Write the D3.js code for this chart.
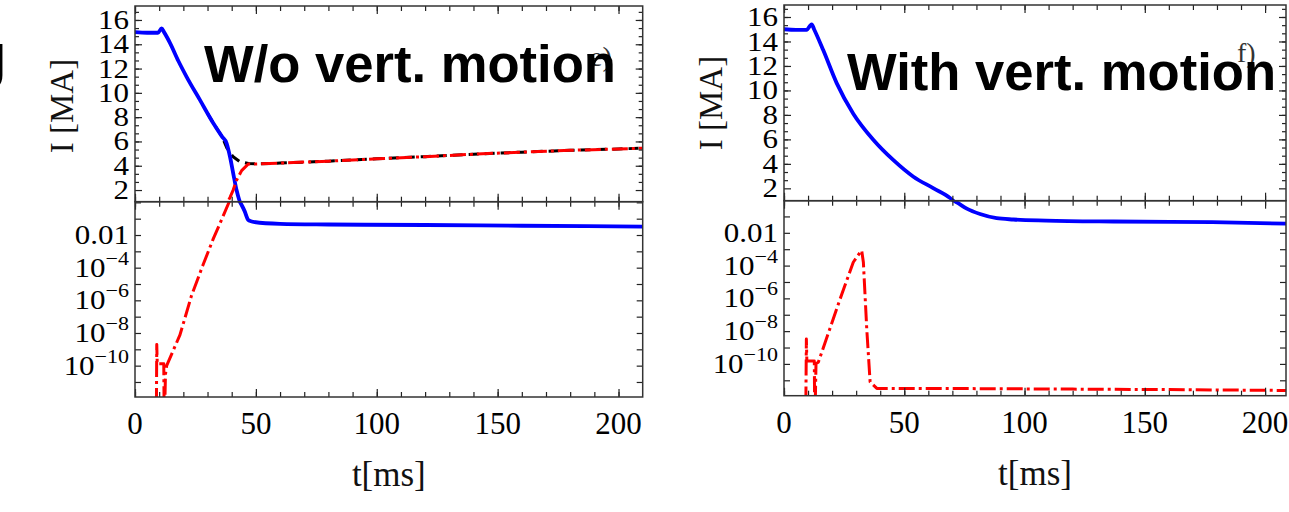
<!DOCTYPE html>
<html>
<head>
<meta charset="utf-8">
<script src="https://cdn.jsdelivr.net/npm/d3@7"></script>
<style>
body { margin: 0; background: #fff; }
svg { display: block; }
</style>
</head>
<body>
<svg id="chart" width="1289" height="512"></svg>
<script>
// panel e) : without vertical motion
var tOhmicE = [0, 5, 9.5, 11, 12, 14.5, 18, 21.4, 26.9, 32.4, 36, 37.9, 39.3, 40.6, 42, 43.1, 44.1, 45.3, 46.8, 48, 49, 60, 80, 120, 160, 210];
var iOhmicE = [15, 14.95, 14.95, 15.3, 15.0, 14.1, 12.6, 11.3, 9.4, 7.5, 6.4, 5.85, 4.74, 3.4, 2.0, 1.2, 0.69, 0.3, 0.085, 0.07, 0.063, 0.048, 0.044, 0.041, 0.037, 0.033];
var tRunE = [8.8, 9.0, 9.2, 11.9, 12.1, 12.6, 13.1, 18.6, 23.4, 28, 32.4, 36, 39.3, 40.6, 42, 44.1, 46.9, 50, 60, 80, 100, 120, 140, 160, 180, 200, 210];
var iRunE = [1e-14, 2e-9, 1.3e-10, 1.3e-10, 1e-14, 3e-11, 1e-10, 7.6e-9, 2e-6, 1.3e-4, 6e-3, 0.1, 1.4, 2.0, 2.8, 3.6, 4.15, 4.15, 4.22, 4.38, 4.57, 4.75, 4.95, 5.12, 5.27, 5.38, 5.45];
var tTotalE = [30, 32.4, 36, 37.9, 40.6, 43.4, 46.9, 50, 60, 80, 100, 120, 140, 160, 180, 200, 210];
var iTotalE = [8.3, 7.5, 6.4, 5.5, 4.74, 4.33, 4.18, 4.15, 4.22, 4.38, 4.57, 4.75, 4.95, 5.12, 5.27, 5.38, 5.45];

// panel f) : with vertical motion
var tOhmicF = [0, 5, 9.4, 11.5, 12.5, 16.3, 21.9, 28.8, 37.2, 45.5, 53.8, 62.2, 69.1, 72, 76, 81.5, 88.4, 95.4, 109, 137, 178, 209];
var iOhmicF = [15, 14.95, 14.95, 15.4, 15.0, 13.3, 10.6, 8.1, 5.95, 4.3, 2.95, 2.0, 1.2, 0.7, 0.3, 0.14, 0.078, 0.065, 0.056, 0.049, 0.045, 0.036];
var tRunF = [9.0, 9.3, 9.5, 12.6, 12.8, 13.3, 14.3, 23.3, 28.8, 31.5, 32.3, 33, 34.4, 35.8, 38.6, 80, 120, 160, 209];
var iRunF = [1e-14, 3.3e-9, 1.5e-10, 1.5e-10, 1e-14, 1e-10, 1.3e-10, 9e-7, 1.6e-4, 6e-4, 8.3e-4, 1.6e-4, 1.4e-8, 8e-12, 3.2e-12, 3.1e-12, 2.9e-12, 2.7e-12, 2.4e-12];

// ticks
var xTicks = [0, 50, 100, 150, 200];
var linTicks = [2, 4, 6, 8, 10, 12, 14, 16];
var logTicks = [1e-2, 1e-4, 1e-6, 1e-8, 1e-10];
var logLabels = [["0.01", ""], ["10", "\u22124"], ["10", "\u22126"], ["10", "\u22128"], ["10", "\u221210"]];

var svg = d3.select("#chart");
var defs = svg.append("defs");
var serif = "'Liberation Serif', 'Times New Roman', serif";
var sans = "'Liberation Sans', Arial, sans-serif";

function zip(t, v) { return t.map(function(d, i) { return [d, v[i]]; }); }

function panel(p) {
  var x = d3.scaleLinear().domain([0, p.tMax]).range([p.left, p.right]);
  var yLin = d3.scaleLinear().domain(p.linDom).range([p.mid, p.top]);
  var yLog = d3.scaleLog().domain(p.logDom).range([p.bottom, p.mid]);
  var w = p.right - p.left;

  defs.append("clipPath").attr("id", p.id + "top").append("rect")
    .attr("x", p.left).attr("y", p.top).attr("width", w).attr("height", p.mid - p.top);
  defs.append("clipPath").attr("id", p.id + "bot").append("rect")
    .attr("x", p.left).attr("y", p.mid).attr("width", w).attr("height", p.bottom - p.mid);

  // small panel letter, partly hidden under the title
  svg.append("text").attr("x", p.letterX).attr("y", p.letterY)
    .style("font-family", serif).style("font-size", "28px").style("fill", "#333")
    .text(p.letter);

  var lineTop = d3.line().x(function(d) { return x(d[0]); }).y(function(d) { return yLin(d[1]); });
  var lineBot = d3.line().x(function(d) { return x(d[0]); }).y(function(d) { return yLog(d[1]); });

  [["top", lineTop], ["bot", lineBot]].forEach(function(part) {
    var g = svg.append("g").attr("clip-path", "url(#" + p.id + part[0] + ")");
    p.series.forEach(function(s) {
      var ln = part[1].curve(s.smooth ? d3.curveMonotoneX : d3.curveLinear);
      g.append("path")
        .datum(s.data)
        .attr("d", ln)
        .style("fill", "none")
        .style("stroke", s.color)
        .style("stroke-width", s.width)
        .style("stroke-dasharray", s.dash || null)
        .style("stroke-linejoin", "round");
    });
  });

  // ticks pointing inward on all sides
  function noDomain(g) { g.select(".domain").remove(); g.selectAll("line").style("stroke", "#222").style("stroke-width", 1.2); }
  var minorX = d3.range(0, p.tMax, 10);
  [[minorX, 5], [xTicks, 8]].forEach(function(tk) {
    [p.mid, p.bottom].forEach(function(yy) {
      svg.append("g").attr("transform", "translate(0," + yy + ")")
        .call(d3.axisBottom(x).tickValues(tk[0]).tickSize(-tk[1]).tickFormat("")).call(noDomain);
    });
    [p.top, p.mid].forEach(function(yy) {
      svg.append("g").attr("transform", "translate(0," + yy + ")")
        .call(d3.axisTop(x).tickValues(tk[0]).tickSize(-tk[1]).tickFormat("")).call(noDomain);
    });
  });

  var minorLin = d3.range(4, 52).map(function(k) { return k * 2 / 3; }).filter(function(v) { return v > p.linDom[0] && v < p.linDom[1]; });
  var logAll = d3.range(0, 12).map(function(k) { return Math.pow(10, -k); }).filter(function(v) { return v > p.logDom[0] && v < p.logDom[1]; });
  [[minorLin, 4], [linTicks, 7]].forEach(function(tk) {
    svg.append("g").attr("transform", "translate(" + p.left + ",0)")
      .call(d3.axisLeft(yLin).tickValues(tk[0]).tickSize(-tk[1]).tickFormat("")).call(noDomain);
    svg.append("g").attr("transform", "translate(" + p.right + ",0)")
      .call(d3.axisRight(yLin).tickValues(tk[0]).tickSize(-tk[1]).tickFormat("")).call(noDomain);
  });
  svg.append("g").attr("transform", "translate(" + p.left + ",0)")
    .call(d3.axisLeft(yLog).tickValues(logAll).tickSize(-6).tickFormat("")).call(noDomain);
  svg.append("g").attr("transform", "translate(" + p.right + ",0)")
    .call(d3.axisRight(yLog).tickValues(logAll).tickSize(-6).tickFormat("")).call(noDomain);

  // frames
  [[p.top, p.mid], [p.mid, p.bottom]].forEach(function(r) {
    svg.append("rect").attr("x", p.left).attr("y", r[0]).attr("width", w).attr("height", r[1] - r[0])
      .style("fill", "none").style("stroke", "#333").style("stroke-width", 1.5);
  });

  // linear tick labels (glyphs look vertically squashed in the source)
  linTicks.forEach(function(v) {
    svg.append("text")
      .attr("transform", "translate(" + (p.left - 6) + "," + yLin(v) + ") scale(1,0.86)")
      .attr("dy", 10.5)
      .attr("text-anchor", "end")
      .style("font-family", serif).style("font-size", "31px").style("fill", "#000")
      .text(v);
  });
  logTicks.forEach(function(v, i) {
    var t = svg.append("text")
      .attr("transform", "translate(" + (p.left - 6) + "," + yLog(v) + ") scale(1,0.86)")
      .attr("text-anchor", "end")
      .style("font-family", serif).style("fill", "#000");
    t.append("tspan").attr("dy", 10.5).style("font-size", "31px").text(logLabels[i][0]);
    if (logLabels[i][1]) {
      t.append("tspan").attr("dy", -14).style("font-size", "22px").text(logLabels[i][1]);
    }
  });
  xTicks.forEach(function(v) {
    svg.append("text").attr("x", x(v)).attr("y", p.bottom + 37)
      .attr("text-anchor", "middle")
      .style("font-family", serif).style("font-size", "31px").style("fill", "#000")
      .text(v);
  });

  // axis titles
  svg.append("text").attr("x", (p.left + p.right) / 2).attr("y", p.bottom + 89)
    .attr("text-anchor", "middle")
    .style("font-family", serif).style("font-size", "35px").style("fill", "#111")
    .text("t[ms]");
  svg.append("text")
    .attr("transform", "translate(" + p.yLabX + "," + p.yLabY + ") rotate(-90)")
    .attr("text-anchor", "middle")
    .style("font-family", serif).style("font-size", "33px").style("fill", "#111")
    .text("I [MA]");

  // bold overlay title
  svg.append("text").attr("x", p.titleX).attr("y", p.titleY)
    .style("font-family", sans).style("font-weight", "bold").style("font-size", "52.6px").style("fill", "#000")
    .text(p.title);
}

panel({
  id: "pe", left: 135, right: 642.7, top: 6, mid: 201.7, bottom: 397,
  tMax: 210, linDom: [1.04, 17.15], logDom: [Math.pow(10, -11.92), Math.pow(10, 0.04)],
  letter: "e)", letterX: 590, letterY: 66,
  yLabX: 73, yLabY: 106,
  title: "W/o vert. motion", titleX: 204, titleY: 82,
  series: [
    { data: zip(tTotalE, iTotalE), color: "#000", width: 3, dash: "10,6" },
    { data: zip(tOhmicE, iOhmicE), color: "#0000ff", width: 3.8, smooth: true },
    { data: zip(tRunE, iRunE), color: "#ff0000", width: 3, dash: "16,4,3,4" }
  ]
});

panel({
  id: "pf", left: 784, right: 1286, top: 5, mid: 200.7, bottom: 395.7,
  tMax: 208.7, linDom: [0.99, 16.98], logDom: [Math.pow(10, -11.94), Math.pow(10, -0.04)],
  letter: "f)", letterX: 1237, letterY: 62,
  yLabX: 722, yLabY: 103,
  title: "With vert. motion", titleX: 847, titleY: 90,
  series: [
    { data: zip(tOhmicF, iOhmicF), color: "#0000ff", width: 3.8, smooth: true },
    { data: zip(tRunF, iRunF), color: "#ff0000", width: 3, dash: "16,4,3,4" }
  ]
});

// fragment of a neighbouring glyph cut off at the left edge
svg.append("text").attr("x", 7).attr("y", 90).attr("text-anchor", "end")
  .style("font-family", sans).style("font-weight", "bold").style("font-size", "66px").style("fill", "#000")
  .text("J");
</script>
</body>
</html>
